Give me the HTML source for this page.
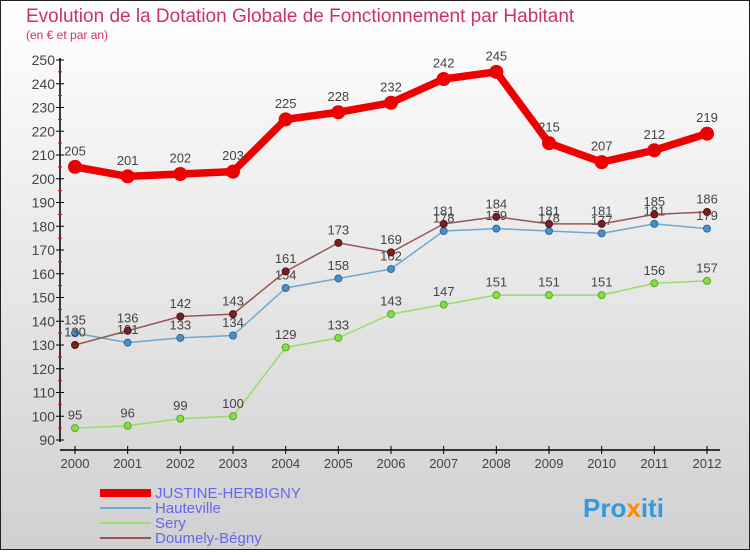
<!DOCTYPE html>
<html><head><meta charset="utf-8"><style>
body{margin:0}
svg text{font-family:"Liberation Sans",sans-serif}
</style></head><body>
<svg width="750" height="550" viewBox="0 0 750 550" xmlns="http://www.w3.org/2000/svg">
<defs><linearGradient id="bg" x1="0" y1="0" x2="0" y2="1"><stop offset="0" stop-color="#ffffff"/><stop offset="1" stop-color="#d0d0d0"/></linearGradient></defs>
<rect x="0.5" y="0.5" width="749" height="549" fill="url(#bg)" stroke="#222"/>
<text x="26" y="22" font-size="19" fill="#d0306a">Evolution de la Dotation Globale de Fonctionnement par Habitant</text>
<text x="26" y="39" font-size="12" fill="#d0306a">(en € et par an)</text>
<g id="axes"></g>
<g id="series"></g>
<g>
<rect x="100" y="489" width="51" height="8" fill="#ee0000"/>
<text x="155" y="498" font-size="15" fill="#6666ee">JUSTINE-HERBIGNY</text>
<line x1="100" y1="508" x2="151" y2="508" stroke="#6fa8d0" stroke-width="2"/>
<text x="155" y="513" font-size="15" fill="#6666ee">Hauteville</text>
<line x1="100" y1="523" x2="151" y2="523" stroke="#99dd66" stroke-width="2"/>
<text x="155" y="528" font-size="15" fill="#6666ee">Sery</text>
<line x1="100" y1="538" x2="151" y2="538" stroke="#995555" stroke-width="2"/>
<text x="155" y="543" font-size="15" fill="#6666ee">Doumely-Bégny</text>
</g>
<text x="583" y="517" font-size="26" font-weight="bold" fill="#3399dd">Pro<tspan fill="#ff8800">x</tspan>iti</text>
</svg>
<script>
const years=[2000,2001,2002,2003,2004,2005,2006,2007,2008,2009,2010,2011,2012];
const justine=[205,201,202,203,225,228,232,242,245,215,207,212,219];
const hauteville=[135,131,133,134,154,158,162,178,179,178,177,181,179];
const sery=[95,96,99,100,129,133,143,147,151,151,151,156,157];
const doumely=[130,136,142,143,161,173,169,181,184,181,181,185,186];
const yTicks=[90,100,110,120,130,140,150,160,170,180,190,200,210,220,230,240,250];
const NS="http://www.w3.org/2000/svg";
const x=i=>75+i*(707-75)/12;
const y=v=>440-(v-90)*380/160;
function mk(t,a,p){const e=document.createElementNS(NS,t);for(const k in a)e.setAttribute(k,a[k]);p.appendChild(e);return e;}
const ax=document.getElementById('axes');
const yl=mk('line',{x1:60,y1:58,x2:60,y2:442,stroke:'#000','stroke-width':1.5},ax);


const xl=mk('line',{x1:60,y1:450,x2:720,y2:450,stroke:'#000','stroke-width':1.5},ax);


yTicks.forEach((v,i)=>{
  mk('line',{x1:56,y1:y(v),x2:64,y2:y(v),stroke:'#000'},ax);
  if(i<yTicks.length-1)mk('line',{x1:58,y1:y(v+5),x2:62,y2:y(v+5),stroke:'#e00'},ax);
  const t=mk('text',{x:55,y:y(v)+5,'font-size':14,'text-anchor':'end',fill:'#444'},ax);
  t.textContent=v;
  
  
});
years.forEach((yr,i)=>{
  mk('line',{x1:x(i),y1:446,x2:x(i),y2:454,stroke:'#000'},ax);
  const t=mk('text',{x:x(i),y:468,'font-size':13,'text-anchor':'middle',fill:'#444'},ax);
  t.textContent=yr;
  
  
});
const sg=document.getElementById('series');
function series(vals,name,color,w,r,fill,stroke){
  const g=mk('g',{},sg);
  
  
  const p=mk('polyline',{points:vals.map((v,i)=>x(i)+','+y(v)).join(' '),fill:'none',stroke:color,'stroke-width':w,'stroke-linejoin':'round'},g);
  
  
  vals.forEach((v,i)=>{
    const c=mk('circle',{cx:x(i),cy:y(v),r:r,fill:fill,stroke:stroke,'stroke-width':1},g);
    
    
    const t=mk('text',{x:x(i),y:y(v)-r-5,'font-size':13,'text-anchor':'middle',fill:'#444'},g);
    t.textContent=v;
    
    
  });
}
series(hauteville,'hauteville','#6fa8d0',1.5,3.5,'#4a90c8','#336699');
series(sery,'sery','#99dd66',1.5,3.5,'#88dd44','#55aa22');
series(doumely,'doumely','#995555',1.5,3.5,'#772222','#551111');
series(justine,'justine','#ee0000',7.5,6.5,'#ee0000','#ee0000');
</script>
</body></html>
